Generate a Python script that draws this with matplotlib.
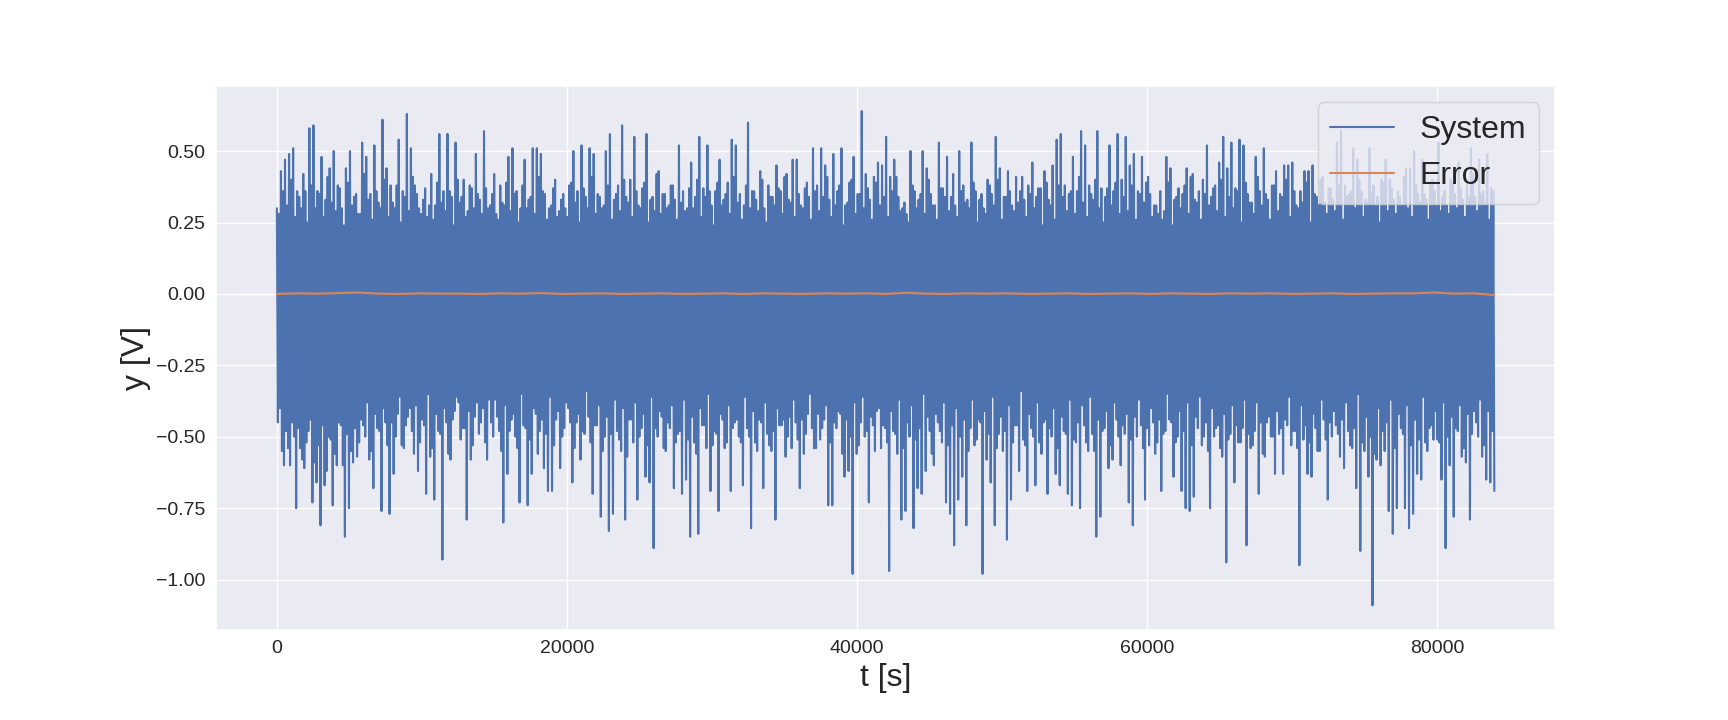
import numpy as np
import matplotlib
matplotlib.use("Agg")
import matplotlib.pyplot as plt
import seaborn as sns

# ---- data: per 280 s bin, the main peak and trough,
# plus a secondary (inner) peak and trough that fill the dense body ----
bin_step = 280  # seconds per bin
system_upper = [
    0.30, 0.43, 0.47, 0.49, 0.51, 0.36, 0.30, 0.36, 0.58, 0.59,
    0.36, 0.48, 0.33, 0.44, 0.50, 0.38, 0.30, 0.44, 0.50, 0.34,
    0.28, 0.53, 0.48, 0.35, 0.52, 0.32, 0.61, 0.44, 0.38, 0.30,
    0.54, 0.36, 0.63, 0.51, 0.38, 0.30, 0.33, 0.27, 0.42, 0.31,
    0.56, 0.36, 0.56, 0.34, 0.53, 0.32, 0.40, 0.29, 0.37, 0.49,
    0.33, 0.57, 0.30, 0.35, 0.28, 0.38, 0.31, 0.48, 0.51, 0.36,
    0.30, 0.47, 0.33, 0.51, 0.51, 0.49, 0.35, 0.30, 0.37, 0.27,
    0.33, 0.30, 0.38, 0.50, 0.36, 0.52, 0.34, 0.51, 0.49, 0.35,
    0.30, 0.50, 0.56, 0.33, 0.38, 0.59, 0.34, 0.40, 0.55, 0.31,
    0.37, 0.56, 0.33, 0.29, 0.43, 0.35, 0.30, 0.38, 0.33, 0.52,
    0.36, 0.30, 0.46, 0.34, 0.55, 0.37, 0.52, 0.31, 0.36, 0.47,
    0.33, 0.39, 0.54, 0.52, 0.35, 0.31, 0.60, 0.36, 0.33, 0.43,
    0.30, 0.38, 0.34, 0.45, 0.36, 0.41, 0.33, 0.47, 0.47, 0.31,
    0.37, 0.34, 0.51, 0.38, 0.51, 0.45, 0.33, 0.49, 0.36, 0.51,
    0.31, 0.39, 0.48, 0.35, 0.64, 0.42, 0.33, 0.41, 0.46, 0.45,
    0.55, 0.41, 0.47, 0.34, 0.30, 0.28, 0.50, 0.36, 0.33, 0.50,
    0.44, 0.35, 0.31, 0.53, 0.37, 0.48, 0.34, 0.31, 0.50, 0.38,
    0.33, 0.53, 0.36, 0.33, 0.30, 0.40, 0.35, 0.55, 0.44, 0.34,
    0.43, 0.31, 0.41, 0.36, 0.33, 0.38, 0.46, 0.34, 0.37, 0.43,
    0.33, 0.45, 0.54, 0.56, 0.38, 0.35, 0.48, 0.36, 0.57, 0.52,
    0.38, 0.33, 0.57, 0.37, 0.34, 0.52, 0.36, 0.56, 0.40, 0.55,
    0.45, 0.49, 0.36, 0.48, 0.39, 0.35, 0.31, 0.28, 0.26, 0.48,
    0.44, 0.33, 0.37, 0.35, 0.44, 0.41, 0.33, 0.36, 0.40, 0.52,
    0.34, 0.38, 0.46, 0.55, 0.44, 0.53, 0.37, 0.54, 0.52, 0.35,
    0.32, 0.48, 0.36, 0.51, 0.33, 0.38, 0.43, 0.35, 0.45, 0.45,
    0.46, 0.31, 0.36, 0.43, 0.43, 0.45, 0.34, 0.40, 0.32, 0.37,
    0.33, 0.53, 0.57, 0.38, 0.35, 0.51, 0.47, 0.36, 0.33, 0.51,
    0.38, 0.34, 0.40, 0.47, 0.40, 0.33, 0.36, 0.31, 0.44, 0.44,
    0.50, 0.35, 0.47, 0.33, 0.38, 0.36, 0.53, 0.34, 0.31, 0.40,
    0.35, 0.46, 0.33, 0.38, 0.51, 0.34, 0.47, 0.36, 0.49, 0.37,
]
system_lower = [
    -0.40, -0.60, -0.54, -0.45, -0.75, -0.54, -0.61, -0.48, -0.73, -0.66,
    -0.81, -0.67, -0.50, -0.74, -0.60, -0.46, -0.85, -0.75, -0.59, -0.57,
    -0.44, -0.50, -0.58, -0.68, -0.47, -0.76, -0.45, -0.77, -0.63, -0.42,
    -0.53, -0.46, -0.40, -0.56, -0.62, -0.44, -0.70, -0.57, -0.72, -0.48,
    -0.93, -0.45, -0.58, -0.41, -0.38, -0.47, -0.79, -0.58, -0.43, -0.49,
    -0.40, -0.58, -0.45, -0.37, -0.48, -0.80, -0.63, -0.44, -0.50, -0.73,
    -0.46, -0.74, -0.63, -0.42, -0.48, -0.61, -0.69, -0.69, -0.44, -0.61,
    -0.47, -0.40, -0.66, -0.45, -0.58, -0.49, -0.43, -0.70, -0.46, -0.78,
    -0.50, -0.83, -0.77, -0.48, -0.55, -0.79, -0.44, -0.52, -0.72, -0.47,
    -0.64, -0.66, -0.89, -0.50, -0.43, -0.55, -0.47, -0.68, -0.49, -0.70,
    -0.65, -0.85, -0.52, -0.84, -0.46, -0.54, -0.69, -0.48, -0.76, -0.44,
    -0.52, -0.69, -0.45, -0.50, -0.67, -0.47, -0.82, -0.52, -0.44, -0.68,
    -0.49, -0.55, -0.79, -0.46, -0.44, -0.50, -0.54, -0.45, -0.68, -0.56,
    -0.42, -0.47, -0.54, -0.51, -0.44, -0.74, -0.74, -0.47, -0.42, -0.64,
    -0.62, -0.98, -0.56, -0.45, -0.50, -0.73, -0.46, -0.41, -0.54, -0.47,
    -0.97, -0.48, -0.56, -0.79, -0.76, -0.50, -0.82, -0.68, -0.70, -0.62,
    -0.48, -0.60, -0.45, -0.52, -0.73, -0.77, -0.88, -0.72, -0.64, -0.81,
    -0.47, -0.53, -0.44, -0.98, -0.58, -0.66, -0.81, -0.49, -0.55, -0.86,
    -0.72, -0.46, -0.62, -0.51, -0.69, -0.47, -0.67, -0.52, -0.45, -0.70,
    -0.50, -0.63, -0.67, -0.48, -0.70, -0.74, -0.52, -0.75, -0.46, -0.55,
    -0.49, -0.85, -0.78, -0.47, -0.61, -0.58, -0.44, -0.60, -0.49, -0.73,
    -0.81, -0.50, -0.46, -0.72, -0.53, -0.45, -0.52, -0.69, -0.48, -0.44,
    -0.64, -0.50, -0.69, -0.75, -0.76, -0.71, -0.47, -0.53, -0.45, -0.75,
    -0.50, -0.46, -0.57, -0.94, -0.49, -0.66, -0.52, -0.47, -0.88, -0.54,
    -0.48, -0.70, -0.56, -0.45, -0.50, -0.63, -0.49, -0.63, -0.46, -0.53,
    -0.48, -0.95, -0.51, -0.63, -0.64, -0.47, -0.55, -0.44, -0.72, -0.50,
    -0.46, -0.57, -0.61, -0.48, -0.54, -0.68, -0.90, -0.55, -0.64, -1.09,
    -0.58, -0.60, -0.55, -0.76, -0.84, -0.75, -0.47, -0.75, -0.82, -0.77,
    -0.63, -0.65, -0.52, -0.47, -0.51, -0.51, -0.65, -0.89, -0.60, -0.78,
    -0.48, -0.57, -0.59, -0.79, -0.41, -0.50, -0.57, -0.65, -0.66, -0.69,
]
system_inner_upper = [
    0.28, 0.36, 0.31, 0.40, 0.27, 0.34, 0.42, 0.25, 0.38, 0.30,
    0.35, 0.27, 0.41, 0.32, 0.29, 0.37, 0.24, 0.39, 0.31, 0.35,
    0.28, 0.42, 0.33, 0.26, 0.36, 0.30, 0.40, 0.27, 0.32, 0.38,
    0.25, 0.34, 0.29, 0.41, 0.35, 0.28, 0.37, 0.31, 0.26, 0.39,
    0.32, 0.29, 0.36, 0.24, 0.40, 0.34, 0.27, 0.38, 0.30, 0.35,
    0.28, 0.37, 0.31, 0.42, 0.26, 0.32, 0.39, 0.29, 0.35, 0.25,
    0.38, 0.30, 0.34, 0.28, 0.41, 0.36, 0.26, 0.31, 0.40, 0.29,
    0.35, 0.27, 0.39, 0.32, 0.25, 0.37, 0.30, 0.41, 0.28, 0.34,
    0.31, 0.38, 0.26, 0.35, 0.29, 0.40, 0.32, 0.27, 0.36, 0.30,
    0.39, 0.25, 0.34, 0.42, 0.28, 0.35, 0.31, 0.38, 0.26, 0.32,
    0.29, 0.37, 0.30, 0.40, 0.27, 0.34, 0.36, 0.24, 0.39, 0.31,
    0.35, 0.28, 0.41, 0.32, 0.26, 0.38, 0.30, 0.36, 0.29, 0.40,
    0.25, 0.34, 0.31, 0.37, 0.28, 0.42, 0.32, 0.27, 0.35, 0.30,
    0.39, 0.26, 0.36, 0.29, 0.34, 0.41, 0.27, 0.31, 0.38, 0.24,
    0.32, 0.40, 0.28, 0.35, 0.30, 0.37, 0.26, 0.39, 0.31, 0.34,
    0.27, 0.36, 0.41, 0.29, 0.32, 0.25, 0.38, 0.30, 0.35, 0.28,
    0.40, 0.31, 0.26, 0.37, 0.34, 0.29, 0.42, 0.27, 0.36, 0.32,
    0.30, 0.39, 0.25, 0.35, 0.28, 0.38, 0.31, 0.40, 0.26, 0.34,
    0.36, 0.29, 0.32, 0.41, 0.27, 0.35, 0.30, 0.37, 0.24, 0.39,
    0.31, 0.26, 0.38, 0.34, 0.29, 0.36, 0.28, 0.41, 0.32, 0.27,
    0.35, 0.40, 0.30, 0.25, 0.37, 0.31, 0.39, 0.28, 0.34, 0.29,
    0.38, 0.26, 0.35, 0.32, 0.41, 0.27, 0.31, 0.36, 0.29, 0.39,
    0.24, 0.34, 0.30, 0.38, 0.28, 0.42, 0.32, 0.26, 0.35, 0.31,
    0.37, 0.29, 0.40, 0.27, 0.34, 0.30, 0.36, 0.25, 0.39, 0.32,
    0.28, 0.41, 0.31, 0.35, 0.26, 0.38, 0.29, 0.34, 0.40, 0.27,
    0.36, 0.30, 0.32, 0.39, 0.25, 0.35, 0.31, 0.41, 0.28, 0.37,
    0.29, 0.38, 0.26, 0.34, 0.36, 0.30, 0.40, 0.27, 0.32, 0.35,
    0.31, 0.25, 0.39, 0.29, 0.37, 0.28, 0.34, 0.41, 0.30, 0.27,
    0.38, 0.32, 0.35, 0.26, 0.40, 0.31, 0.29, 0.36, 0.28, 0.39,
    0.30, 0.37, 0.27, 0.34, 0.42, 0.29, 0.35, 0.32, 0.26, 0.36,
]
system_inner_lower = [
    -0.45, -0.55, -0.48, -0.60, -0.50, -0.47, -0.58, -0.52, -0.44, -0.59,
    -0.53, -0.46, -0.62, -0.51, -0.56, -0.45, -0.60, -0.49, -0.55, -0.47,
    -0.52, -0.46, -0.38, -0.55, -0.42, -0.48, -0.40, -0.53, -0.45, -0.50,
    -0.36, -0.54, -0.43, -0.48, -0.39, -0.52, -0.46, -0.35, -0.54, -0.42,
    -0.49, -0.40, -0.56, -0.44, -0.36, -0.51, -0.47, -0.41, -0.53, -0.38,
    -0.45, -0.52, -0.37, -0.50, -0.43, -0.55, -0.39, -0.48, -0.42, -0.54,
    -0.35, -0.47, -0.51, -0.40, -0.56, -0.44, -0.49, -0.36, -0.53, -0.41,
    -0.50, -0.38, -0.45, -0.54, -0.42, -0.48, -0.34, -0.52, -0.46, -0.39,
    -0.55, -0.43, -0.49, -0.37, -0.51, -0.40, -0.57, -0.44, -0.38, -0.50,
    -0.42, -0.53, -0.36, -0.47, -0.41, -0.54, -0.45, -0.39, -0.52, -0.48,
    -0.37, -0.51, -0.43, -0.56, -0.40, -0.46, -0.35, -0.53, -0.49, -0.42,
    -0.54, -0.39, -0.47, -0.44, -0.52, -0.36, -0.50, -0.41, -0.55, -0.45,
    -0.38, -0.53, -0.48, -0.40, -0.46, -0.57, -0.43, -0.37, -0.51, -0.44,
    -0.49, -0.35, -0.54, -0.42, -0.47, -0.39, -0.52, -0.45, -0.41, -0.56,
    -0.44, -0.50, -0.38, -0.53, -0.36, -0.48, -0.43, -0.55, -0.40, -0.46,
    -0.52, -0.41, -0.49, -0.37, -0.54, -0.45, -0.39, -0.51, -0.47, -0.35,
    -0.43, -0.56, -0.42, -0.48, -0.38, -0.53, -0.46, -0.40, -0.50, -0.44,
    -0.55, -0.37, -0.51, -0.45, -0.41, -0.49, -0.36, -0.54, -0.43, -0.48,
    -0.39, -0.52, -0.46, -0.34, -0.53, -0.42, -0.50, -0.38, -0.56, -0.44,
    -0.47, -0.40, -0.54, -0.43, -0.49, -0.37, -0.51, -0.45, -0.39, -0.52,
    -0.36, -0.55, -0.44, -0.48, -0.41, -0.53, -0.38, -0.50, -0.46, -0.42,
    -0.51, -0.43, -0.37, -0.54, -0.47, -0.40, -0.56, -0.44, -0.49, -0.35,
    -0.45, -0.52, -0.41, -0.48, -0.38, -0.53, -0.43, -0.36, -0.50, -0.55,
    -0.40, -0.47, -0.54, -0.42, -0.51, -0.39, -0.46, -0.52, -0.37, -0.49,
    -0.53, -0.38, -0.45, -0.57, -0.43, -0.50, -0.41, -0.47, -0.44, -0.36,
    -0.48, -0.54, -0.39, -0.46, -0.52, -0.42, -0.55, -0.37, -0.51, -0.45,
    -0.41, -0.49, -0.44, -0.38, -0.53, -0.47, -0.35, -0.52, -0.43, -0.50,
    -0.56, -0.40, -0.48, -0.45, -0.37, -0.54, -0.42, -0.49, -0.39, -0.53,
    -0.44, -0.51, -0.36, -0.55, -0.46, -0.41, -0.52, -0.38, -0.50, -0.43,
    -0.47, -0.39, -0.54, -0.42, -0.49, -0.45, -0.37, -0.53, -0.41, -0.48,
]
error_values = [
    0.000, 0.002, 0.001, 0.003, 0.005, 0.001, 0.000, 0.002, 0.001, 0.001,
    0.000, 0.002, 0.001, 0.003, 0.000, 0.001, 0.002, 0.000, 0.001, 0.002,
    0.000, 0.001, 0.002, 0.000, 0.002, 0.001, 0.000, 0.002, 0.001, 0.002,
    0.000, 0.004, 0.001, 0.000, 0.002, 0.001, 0.002, 0.000, 0.001, 0.002,
    0.000, 0.001, 0.002, 0.000, 0.002, 0.001, 0.000, 0.002, 0.001, 0.002,
    0.000, 0.001, 0.002, 0.000, 0.001, 0.002, 0.002, 0.005, 0.001, 0.002,
    -0.004,
]

# ---- build the series: peak, inner trough, inner peak, trough per bin ----
n = len(system_upper)
t0 = np.arange(n) * bin_step
q = bin_step / 4
t_sys = np.column_stack([t0, t0 + q, t0 + 2 * q, t0 + 3 * q]).ravel()
y_sys = np.column_stack([system_upper, system_inner_lower,
                         system_inner_upper, system_lower]).ravel()
t_err = np.linspace(0, t_sys[-1], len(error_values))

sns.set_theme(style="darkgrid")
plt.rcParams['font.family'] = ['Liberation Sans', 'DejaVu Sans']
plt.rcParams['path.simplify'] = False

fig, ax = plt.subplots(figsize=(17.28, 7.2), dpi=100)
fig.subplots_adjust(left=0.125, right=0.9, top=0.88, bottom=0.125)

ax.plot(t_sys, y_sys, color="#4C72B0", lw=1.5, label="System")
ax.plot(t_err, error_values, color="#DD8452", lw=1.5, label="Error")

ax.set_xlabel("t [s]", fontsize=23)
ax.set_ylabel("y [V]", fontsize=23)
ax.tick_params(axis="both", labelsize=14, length=0, pad=7.5)
ax.legend(loc="upper right", fontsize=23)

fig.savefig("out.png", dpi=100)
